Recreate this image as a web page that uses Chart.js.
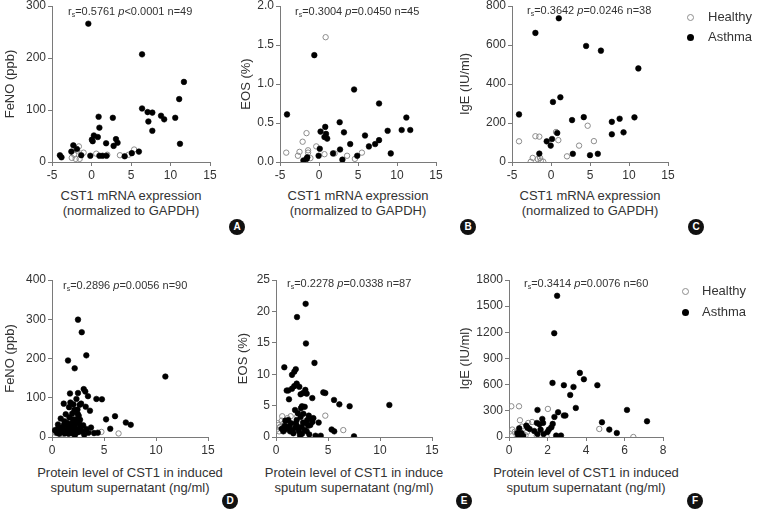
<!DOCTYPE html>
<html><head><meta charset="utf-8">
<script src="https://cdn.jsdelivr.net/npm/chart.js@4.4.0/dist/chart.umd.min.js"></script>
<style>
html,body{margin:0;padding:0;width:757px;height:513px;overflow:hidden;background:#fff;font-family:"Liberation Sans",Arial,sans-serif;}
canvas{position:absolute;}
.ann{position:absolute;font-size:11px;color:#333;white-space:nowrap;line-height:12px;}
.ann sub{font-size:7px;vertical-align:-2px;line-height:0;}
.badge{position:absolute;width:16px;height:16px;border-radius:50%;background:#111;color:#fff;font-weight:bold;font-size:10px;text-align:center;line-height:16px;}
.leg{position:absolute;font-size:13px;color:#333;line-height:14px;white-space:nowrap;}
.xt{position:absolute;font-size:13px;color:#333;line-height:15px;white-space:nowrap;text-align:center;width:300px;}
.mk{position:absolute;border-radius:50%;box-sizing:border-box;}
</style>
</head><body>
<script>
// ---------- tick labels ----------
const cst1Ticks = [-5, 0, 5, 10, 15];
const proteinTicks = [0, 5, 10, 15];
const proteinTicksF = [0, 2, 4, 6, 8];
const fenoTicksA = [0, 100, 200, 300];
const eosTicksB = [0, 0.5, 1, 1.5, 2];
const igeTicksC = [0, 200, 400, 600, 800];
const fenoTicksD = [0, 100, 200, 300, 400];
const eosTicksE = [0, 5, 10, 15, 20, 25];
const igeTicksF = [0, 300, 600, 900, 1200, 1500, 1800];

// ---------- titles / labels ----------
const seriesNames = ['Healthy', 'Asthma'];
const xTitleMRNA = ['CST1 mRNA expression', '(normalized to GAPDH)'];
const xTitleProtein = ['Protein level of CST1 in induced', 'sputum supernatant (ng/ml)'];
const xTitleProteinE = ['Protein level of CST1 in induce', 'sputum supernatant (ng/ml)'];
const yTitles = ['FeNO (ppb)', 'EOS (%)', 'IgE (IU/ml)', 'FeNO (ppb)', 'EOS (%)', 'IgE (IU/ml)'];
const panelLetters = ['A', 'B', 'C', 'D', 'E', 'F'];
const statRs = ['0.5761', '0.3004', '0.3642', '0.2896', '0.2278', '0.3414'];
const statP = ['<0.0001', '=0.0450', '=0.0246', '=0.0056', '=0.0338', '=0.0076'];
const statN = ['49', '45', '38', '90', '87', '60'];

// ---------- data [x, y] ----------
const aHealthy = [[-2.5,8],[-2.0,6],[-1.5,6],[-1.6,30],[-2.2,14],[-1.0,18],[0.6,16],[2.0,14],[3.6,13],[4.7,14],[5.4,24],[-1.8,22]];
const aAsthma = [[-0.4,266],[6.4,207],[11.7,154],[11.1,121],[6.4,103],[7.1,96],[7.7,95],[7.2,78],[7.7,60],[8.8,89],[9.2,82],[10.6,85],[11.2,35],[0.9,87],[2.7,85],[1.0,66],[0.05,43],[0.3,51],[0.15,40],[0.8,48],[1.85,36],[3.1,44],[3.3,37],[2.8,31],[-2.3,32],[-2.55,20],[-1.85,25],[-4.0,13],[-3.8,9],[-1.3,13],[-0.15,12],[1.0,12],[1.4,12],[1.9,12],[4.2,11],[5.1,17],[6.0,20]];

const bHealthy = [[0.85,1.60],[-4.2,0.12],[-2.7,0.08],[-2.5,0.13],[-2.1,0.26],[-1.6,0.37],[-1.4,0.15],[-1.4,0.12],[-1.1,0.05],[-0.35,0.20],[0.7,0.10],[2.0,0.11],[3.6,0.08],[4.6,0.04],[5.5,0.12]];
const bAsthma = [[-4.1,0.61],[-0.6,1.37],[4.5,0.93],[7.7,0.75],[11.2,0.57],[0.2,0.39],[0.8,0.45],[0.9,0.36],[0.7,0.32],[1.05,0.30],[2.65,0.51],[3.2,0.38],[4.0,0.23],[5.9,0.34],[6.4,0.20],[7.2,0.23],[7.7,0.28],[8.8,0.40],[10.6,0.41],[11.7,0.41],[9.2,0.11],[0.1,0.17],[-0.05,0.08],[1.8,0.11],[2.7,0.16],[3.0,0.03],[4.9,0.08],[-2.0,0.02],[-1.5,0.06],[-1.6,0.04]];

const cHealthy = [[-4.1,106],[-2.0,132],[-1.5,130],[0.64,154],[0.94,112],[4.7,186],[3.6,84],[5.5,107],[2.05,29],[-2.35,21],[-2.6,1],[-1.4,21],[-1.3,7],[-1.0,2],[-1.7,15]];
const cAsthma = [[1.0,737],[-2.0,662],[4.5,595],[6.4,571],[11.2,480],[0.25,308],[1.2,332],[-4.1,244],[2.7,215],[4.2,230],[7.8,206],[8.8,222],[10.7,229],[7.8,142],[9.3,152],[0.8,149],[-0.55,106],[0.13,118],[-0.04,84],[-1.5,43],[2.8,42],[5.0,35],[6.0,42]];

const dHealthy = [[0.3,18],[0.5,14],[0.7,20],[0.9,12],[1.1,17],[0.4,10],[0.8,22],[1.3,15],[0.2,12],[1.5,10],[1.0,8],[4.75,13],[6.4,9],[0.6,25]];
const dAsthma = [[2.5,299],[2.86,267],[3.3,208],[1.54,195],[2.18,175],[3.05,122],[3.2,116],[1.73,111],[3.46,104],[2.5,112],[2.35,97],[4.27,97],[4.8,96],[1.13,85],[1.77,88],[2.06,83],[2.66,82],[2.8,85],[3.24,77],[1.64,76],[1.32,58],[2.15,69],[2.47,59],[3.65,67],[2.57,54],[0.84,47],[1.67,50],[2.0,45],[2.3,45],[6.06,53],[5.2,45],[7.1,37],[7.57,31],[0.58,32],[1.15,31],[1.87,34],[2.73,27],[5.6,21],[0.29,17],[0.84,13],[1.41,19],[1.8,17],[2.25,22],[2.57,13],[2.76,21],[3.5,11],[4.04,10],[4.4,11],[3.75,24],[0.48,11],[1.22,9],[2.0,9],[2.35,11],[2.9,14],[1.54,29],[1.03,25],[2.18,30],[2.3,40],[10.9,154],[0.6,22],[1.9,26],[2.6,35],[3.0,30],[1.2,40],[2.45,70],[1.95,60],[0.7,8],[1.7,12],[2.2,5],[3.1,6],[2.7,44],[1.45,36],[0.95,20],[3.3,20],[2.05,15],[1.6,8]];

const eHealthy = [[0.6,3.3],[1.41,3.3],[0.7,2.1],[0.26,1.9],[0.38,1.6],[0.06,1.2],[0.96,2.5],[2.05,3.3],[4.74,3.4],[6.47,1.1],[0.3,0.9],[0.55,2.6],[1.1,3.0],[0.15,2.2],[0.8,1.0]];
const eAsthma = [[2.85,21.2],[2.02,19.1],[2.88,14.9],[3.7,11.8],[0.8,11.1],[1.9,10.8],[1.76,10.4],[1.54,9.9],[1.99,8.5],[2.24,8.0],[1.76,8.1],[1.18,7.4],[1.03,7.4],[1.54,7.7],[2.82,7.5],[2.95,6.9],[2.37,6.8],[2.6,7.0],[4.55,7.1],[4.74,7.0],[3.49,6.2],[1.25,6.0],[5.58,5.9],[6.09,5.2],[7.08,4.9],[10.9,5.1],[2.5,4.9],[2.76,4.8],[2.4,4.6],[1.83,4.3],[4.1,2.3],[5.35,1.2],[5.6,0.9],[7.5,0.1],[3.8,0.2],[3.2,0.4],[2.5,0.5],[1.67,0.6],[2.18,1.3],[0.96,1.3],[0.55,1.3],[0.84,1.8],[1.28,1.7],[1.44,2.2],[1.9,2.2],[2.88,2.2],[3.1,1.8],[3.3,1.9],[3.5,2.4],[2.63,3.7],[2.37,3.2],[1.99,2.7],[1.6,1.1],[2.76,1.1],[3.0,2.7],[2.47,1.6],[1.18,2.7],[3.59,3.0],[2.2,0.9],[1.35,0.9],[0.7,0.9],[2.0,1.8],[2.6,2.3],[3.4,2.9],[1.1,1.5],[2.3,0.3],[1.85,1.5],[2.95,0.9],[0.9,2.6],[2.1,3.8],[3.15,3.4],[4.3,0.2]];

const fHealthy = [[0.12,352],[0.52,352],[2.02,322],[0.57,192],[0.17,85],[0.14,8],[0.67,119],[1.0,161],[1.2,172],[0.86,19],[1.44,16],[1.95,4],[4.69,92],[6.46,0],[0.3,60],[1.6,25],[0.95,60]];
const fAsthma = [[2.5,1619],[2.35,1190],[2.26,620],[2.85,594],[3.35,574],[3.18,482],[3.68,735],[3.89,662],[4.59,594],[3.47,333],[1.48,310],[6.13,310],[7.17,180],[4.83,169],[5.21,85],[5.6,46],[2.55,284],[2.85,246],[2.93,246],[2.36,230],[2.2,111],[2.27,150],[2.45,16],[2.7,16],[1.73,207],[1.45,161],[1.58,146],[1.77,161],[1.64,85],[1.48,35],[1.8,35],[1.31,69],[1.07,92],[0.9,130],[0.96,107],[0.53,100],[0.64,46],[0.43,46],[0.48,11],[0.74,11],[0.6,0],[2.07,85],[2.0,58]];

// ---------- drawing ----------
const FONT = '"Liberation Sans", Arial, sans-serif';
const AXIS = '#7a7a7a';
const TXT = '#333';

function pts(arr){ return arr.map(p => ({x:p[0], y:p[1]})); }

function panel(p){
  const cl = Math.round(p.yTitleX - 7.8);
  const padTop = 12, padRight = 14;
  const ct = p.top - padTop;
  const xH = 24;
  const W = p.right + padRight - cl;
  const H = padTop + (p.bottom - p.top) + xH;
  const yW = p.left - cl;
  const cv = document.createElement('canvas');
  cv.width = W; cv.height = H;
  cv.style.left = cl + 'px'; cv.style.top = ct + 'px';
  cv.style.width = W + 'px'; cv.style.height = H + 'px';
  document.body.appendChild(cv);
  const fmt = p.yFmt || (v => String(v));
  const tickFont = {size: 12, family: FONT};
  new Chart(cv, {
    type: 'scatter',
    data: { datasets: [
      {label: seriesNames[1], data: pts(p.asthma), pointRadius: 2.8, pointHoverRadius: 2.8,
       backgroundColor: '#000', borderColor: '#000', borderWidth: 0.6},
      {label: seriesNames[0], data: pts(p.healthy), pointRadius: 2.7, pointHoverRadius: 2.7,
       backgroundColor: 'rgba(255,255,255,0)', borderColor: '#8c8c8c', borderWidth: 1}
    ]},
    options: {
      responsive: false, animation: false, devicePixelRatio: 1,
      layout: {padding: {left: 0, top: padTop, right: padRight, bottom: 0}},
      plugins: {legend: {display: false}, tooltip: {enabled: false}},
      events: [],
      scales: {
        x: {
          type: 'linear', min: p.xTicks[0], max: p.xTicks[p.xTicks.length-1],
          afterBuildTicks: s => { s.ticks = p.xTicks.map(v => ({value: v})); },
          afterFit: s => { s.height = xH; },
          ticks: {font: tickFont, color: TXT, padding: 2, maxRotation: 0, autoSkip: false, callback: v => String(v)},
          grid: {display: true, drawOnChartArea: false, drawTicks: true, tickLength: 4, color: AXIS},
          border: {display: true, color: AXIS, width: 1},
          title: {display: false}
        },
        y: {
          type: 'linear', min: p.yTicks[0], max: p.yTicks[p.yTicks.length-1],
          afterBuildTicks: s => { s.ticks = p.yTicks.map(v => ({value: v})); },
          afterFit: s => { s.width = yW; },
          ticks: {font: tickFont, color: TXT, padding: 2, autoSkip: false, callback: v => fmt(v)},
          grid: {display: true, drawOnChartArea: false, drawTicks: true, tickLength: 4, color: AXIS},
          border: {display: true, color: AXIS, width: 1},
          title: {display: true, text: p.yTitle, color: TXT, padding: 0,
                  font: {size: 13, family: FONT, lineHeight: 1.2}}
        }
      }
    }
  });
  // x-axis title (two lines), centred under the plot area
  const cx = (p.left + p.right) / 2;
  const d = document.createElement('div');
  d.className = 'xt';
  d.style.left = (cx - 150) + 'px';
  d.style.top = (p.bottom + p.xTitleOff - 22.5) + 'px';
  d.innerHTML = p.xTitle[0] + '<br>' + p.xTitle[1];
  document.body.appendChild(d);
}

function annotate(i, left, cy){
  const d = document.createElement('div');
  d.className = 'ann';
  d.style.left = left + 'px'; d.style.top = (cy - 6) + 'px';
  d.innerHTML = 'r<sub>s</sub>=' + statRs[i] + ' <i>p</i>' + statP[i].replace('<','&lt;') + ' n=' + statN[i];
  document.body.appendChild(d);
}
function badge(i, cx, cy){
  const d = document.createElement('div');
  d.className = 'badge';
  d.style.left = (cx - 8) + 'px'; d.style.top = (cy - 8) + 'px';
  d.textContent = panelLetters[i];
  document.body.appendChild(d);
}
function legend(mx, y1, y2, tx){
  [[y1, 0], [y2, 1]].forEach(([y, k]) => {
    const m = document.createElement('div');
    m.className = 'mk';
    m.style.left = (mx - 3.5) + 'px'; m.style.top = (y - 3.5) + 'px';
    m.style.width = '7px'; m.style.height = '7px';
    if (k === 0) { m.style.border = '1px solid #8c8c8c'; } else { m.style.background = '#000'; }
    document.body.appendChild(m);
    const t = document.createElement('div');
    t.className = 'leg';
    t.style.left = tx + 'px'; t.style.top = (y - 7) + 'px';
    t.textContent = seriesNames[k];
    document.body.appendChild(t);
  });
}

panel({left:52, top:6, right:210, bottom:162, yTitleX:11, xTitleOff:48, xTicks:cst1Ticks, yTicks:fenoTicksA, xTitle:xTitleMRNA, yTitle:yTitles[0], healthy:aHealthy, asthma:aAsthma});
panel({left:280, top:6, right:436, bottom:162, yTitleX:247, xTitleOff:48, xTicks:cst1Ticks, yTicks:eosTicksB, xTitle:xTitleMRNA, yTitle:yTitles[1], healthy:bHealthy, asthma:bAsthma, yFmt: v => v.toFixed(1)});
panel({left:512, top:6, right:668, bottom:162, yTitleX:466, xTitleOff:48, xTicks:cst1Ticks, yTicks:igeTicksC, xTitle:xTitleMRNA, yTitle:yTitles[2], healthy:cHealthy, asthma:cAsthma});
panel({left:52, top:280, right:208, bottom:437, yTitleX:10.5, xTitleOff:50, xTicks:proteinTicks, yTicks:fenoTicksD, xTitle:xTitleProtein, yTitle:yTitles[3], healthy:dHealthy, asthma:dAsthma});
panel({left:276, top:280, right:432, bottom:437, yTitleX:244, xTitleOff:50, xTicks:proteinTicks, yTicks:eosTicksE, xTitle:xTitleProteinE, yTitle:yTitles[4], healthy:eHealthy, asthma:eAsthma});
panel({left:509, top:280, right:663, bottom:437, yTitleX:466, xTitleOff:50, xTicks:proteinTicksF, yTicks:igeTicksF, xTitle:xTitleProtein, yTitle:yTitles[5], healthy:fHealthy, asthma:fAsthma});

annotate(0, 68, 11); annotate(1, 295, 11); annotate(2, 527, 10);
annotate(3, 63, 285); annotate(4, 287, 283); annotate(5, 524, 283);
badge(0, 237, 227); badge(1, 468, 227); badge(2, 696, 227);
badge(3, 230, 501); badge(4, 464, 501); badge(5, 695, 501);
legend(690, 17, 37, 708);
legend(685, 291, 312, 702);
</script>
</body></html>
